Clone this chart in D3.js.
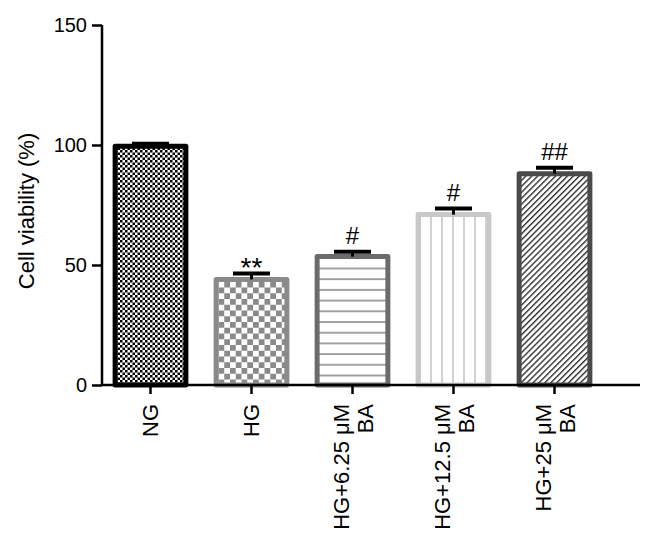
<!DOCTYPE html>
<html>
<head>
<meta charset="utf-8">
<script src="https://cdn.jsdelivr.net/npm/d3@7"></script>
<style>
  body { margin: 0; background: #fff; }
  text { font-family: "Liberation Sans", Arial, Helvetica, sans-serif; }
</style>
</head>
<body>
<svg id="chart"></svg>
<script>
// data
let groups = ["NG", "HG", "HG+6.25 μM|BA", "HG+12.5 μM|BA", "HG+25 μM|BA"];
let means = [99.5, 44, 53.5, 71, 88];
let errs = [1, 2.5, 2, 2.5, 2.5];
let marks = ["", "**", "#", "#", "##"];
let yTicks = [0, 50, 100, 150];

let W = 661, H = 546;
let svg = d3.select("#chart").attr("width", W).attr("height", H);

let x = d3.scaleBand()
    .domain(groups)
    .range([100, 605])
    .paddingInner(0.25)
    .paddingOuter(0.125);

let y = d3.scaleLinear().domain([0, 150]).range([385, 25]);

// fill patterns
let defs = svg.append("defs");

let p1 = defs.append("pattern").attr("id", "pNG").attr("patternUnits", "userSpaceOnUse")
    .attr("width", 5).attr("height", 5);
p1.append("rect").attr("width", 5).attr("height", 5).attr("fill", "#fff");
p1.append("rect").attr("width", 2.5).attr("height", 2.5).attr("fill", "#000");
p1.append("rect").attr("x", 2.5).attr("y", 2.5).attr("width", 2.5).attr("height", 2.5).attr("fill", "#000");

let p2 = defs.append("pattern").attr("id", "pHG").attr("patternUnits", "userSpaceOnUse")
    .attr("width", 11.5).attr("height", 11.5);
p2.append("rect").attr("width", 11.5).attr("height", 11.5).attr("fill", "#fff");
p2.append("rect").attr("width", 5.75).attr("height", 5.75).attr("fill", "#8a8a8a");
p2.append("rect").attr("x", 5.75).attr("y", 5.75).attr("width", 5.75).attr("height", 5.75).attr("fill", "#8a8a8a");

let p3 = defs.append("pattern").attr("id", "pH").attr("patternUnits", "userSpaceOnUse")
    .attr("width", 10).attr("height", 10.7);
p3.append("rect").attr("width", 10).attr("height", 10.7).attr("fill", "#fff");
p3.append("line").attr("x1", 0).attr("x2", 10).attr("y1", 1).attr("y2", 1)
    .attr("stroke", "#8c8c8c").attr("stroke-width", 1.6);

let p4 = defs.append("pattern").attr("id", "pV").attr("patternUnits", "userSpaceOnUse")
    .attr("width", 11).attr("height", 10);
p4.append("rect").attr("width", 11).attr("height", 10).attr("fill", "#fff");
p4.append("line").attr("x1", 2).attr("x2", 2).attr("y1", 0).attr("y2", 10)
    .attr("stroke", "#cdcdcd").attr("stroke-width", 1.8);

let p5 = defs.append("pattern").attr("id", "pD").attr("patternUnits", "userSpaceOnUse")
    .attr("width", 4.2).attr("height", 4.2).attr("patternTransform", "rotate(45)");
p5.append("rect").attr("width", 4.2).attr("height", 4.2).attr("fill", "#fff");
p5.append("line").attr("x1", 0.7).attr("x2", 0.7).attr("y1", 0).attr("y2", 4.2)
    .attr("stroke", "#222").attr("stroke-width", 1.3);

let fills = ["url(#pNG)", "url(#pHG)", "url(#pH)", "url(#pV)", "url(#pD)"];
let strokes = ["#000", "#8a8a8a", "#6b6b6b", "#c8c8c8", "#4a4a4a"];

let data = groups.map((g, i) => ({g: g, v: means[i], e: errs[i], m: marks[i], fill: fills[i], stroke: strokes[i]}));

let sw = 5;

// bars
svg.selectAll("rect.bar")
    .data(data).enter()
    .append("rect")
    .attr("class", "bar")
    .attr("x", d => x(d.g) + sw/2)
    .attr("width", x.bandwidth() - sw)
    .attr("y", d => y(d.v))
    .attr("height", d => y(0) - y(d.v))
    .attr("fill", d => d.fill)
    .attr("stroke", d => d.stroke)
    .attr("stroke-width", sw)
    .attr("stroke-linejoin", "round");

// error bars (upper only)
let cx = d => x(d.g) + x.bandwidth()/2;
svg.selectAll("line.stem")
    .data(data).enter()
    .append("line")
    .attr("x1", cx).attr("x2", cx)
    .attr("y1", d => y(d.v)).attr("y2", d => y(d.v + d.e))
    .attr("stroke", "#000").attr("stroke-width", 3);
svg.selectAll("line.cap")
    .data(data).enter()
    .append("line")
    .attr("x1", d => cx(d) - 18.5).attr("x2", d => cx(d) + 18.5)
    .attr("y1", d => y(d.v + d.e)).attr("y2", d => y(d.v + d.e))
    .attr("stroke", "#000").attr("stroke-width", 4);

// significance marks
svg.selectAll("text.sig")
    .data(data).enter()
    .append("text")
    .attr("x", cx)
    .attr("y", d => y(d.v + d.e) + (d.m === "**" ? 4 : -8))
    .attr("text-anchor", "middle")
    .style("font-size", d => d.m === "**" ? "28px" : "24px")
    .text(d => d.m);

// y axis
let yAxis = svg.append("g")
    .attr("transform", "translate(102,0)")
    .call(d3.axisLeft(y).tickValues(yTicks).tickSize(10).tickPadding(5));
yAxis.select(".domain").attr("stroke-width", 2.5).attr("d", `M0,${y(150)}V${y(0)}`);
yAxis.selectAll(".tick line").attr("stroke-width", 2.5);
yAxis.selectAll(".tick text").style("font-size", "20px").attr("fill", "#000");

// x axis
let xAxis = svg.append("g")
    .attr("transform", `translate(0,${y(0)})`)
    .call(d3.axisBottom(x).tickSize(9).tickFormat(""));
xAxis.select(".domain").attr("stroke-width", 2.5).attr("d", "M102,0H640");
xAxis.selectAll(".tick line").attr("stroke-width", 2.5);

// rotated x labels (two lines where needed)
groups.forEach(g => {
    let parts = g.split("|");
    let t = svg.append("text")
        .attr("transform", `translate(${x(g) + x.bandwidth()/2},404) rotate(-90)`)
        .attr("text-anchor", "end")
        .style("font-size", "22px");
    let off = parts.length > 1 ? -0.15 : 0.35;
    parts.forEach((p, k) => {
        t.append("tspan")
            .attr("x", 0)
            .attr("dy", k === 0 ? off + "em" : "1.1em")
            .text(p);
    });
});

// y title
svg.append("text")
    .attr("transform", "translate(34,211) rotate(-90)")
    .attr("text-anchor", "middle")
    .style("font-size", "22px")
    .text("Cell viability (%)");
</script>
</body>
</html>
